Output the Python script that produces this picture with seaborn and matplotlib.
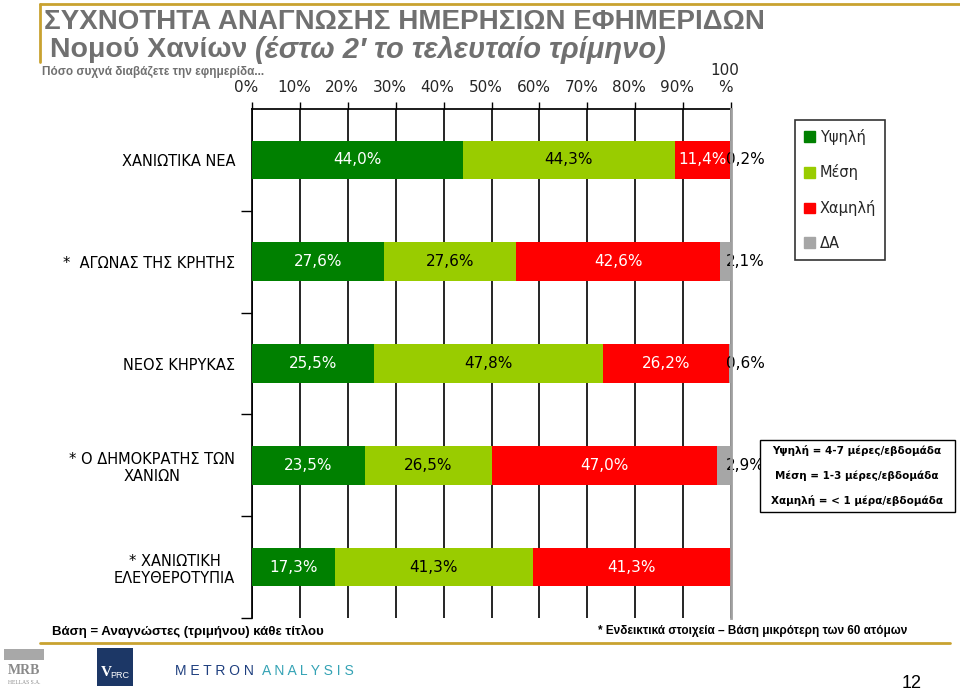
import numpy as np
import pandas as pd
import matplotlib
matplotlib.use("Agg")
import matplotlib.pyplot as plt
import matplotlib.patches as mpatches
from matplotlib.lines import Line2D
from matplotlib.transforms import ScaledTranslation
import seaborn as sns

# data
papers = ["ΧΑΝΙΩΤΙΚΑ ΝΕΑ", "*  ΑΓΩΝΑΣ ΤΗΣ ΚΡΗΤΗΣ", "ΝΕΟΣ ΚΗΡΥΚΑΣ",
          "* Ο ΔΗΜΟΚΡΑΤΗΣ ΤΩΝ\nΧΑΝΙΩΝ", "* ΧΑΝΙΩΤΙΚΗ\nΕΛΕΥΘΕΡΟΤΥΠΙΑ"]
high = [44.0, 27.6, 25.5, 23.5, 17.3]
medium = [44.3, 27.6, 47.8, 26.5, 41.3]
low = [11.4, 42.6, 26.2, 47.0, 41.3]
dk = [0.2, 2.1, 0.6, 2.9, 0.0]
series_names = ["Υψηλή", "Μέση", "Χαμηλή", "ΔΑ"]
xtick_values = [0, 10, 20, 30, 40, 50, 60, 70, 80, 90, 100]
xtick_labels = ["0%", "10%", "20%", "30%", "40%", "50%", "60%", "70%", "80%", "90%", "100\n%"]

colors = ["#008000", "#99CC00", "#FF0000", "#A6A6A6"]
label_colors = ["white", "black", "white", "black"]

sns.set_theme(style="white")
plt.rcParams["font.family"] = ["DejaVu Sans"]

df = pd.DataFrame({"paper": papers, "Υψηλή": high, "Μέση": medium, "Χαμηλή": low, "ΔΑ": dk})
cum = df[series_names].cumsum(axis=1)

fig = plt.figure(figsize=(9.6, 6.91), dpi=100)
ax = fig.add_axes([252 / 960, 1 - 618 / 691, (731 - 252) / 960, (618 - 109) / 691])

# stacked bars: draw cumulative totals from the back to the front
for i in range(len(series_names) - 1, -1, -1):
    sns.barplot(x=cum[series_names[i]], y=df["paper"], color=colors[i], width=0.38,
                orient="h", linewidth=0, saturation=1, ax=ax, zorder=3)

# value labels
for j in range(len(papers)):
    start = 0
    for i, name in enumerate(series_names):
        v = df[name][j]
        if v > 0:
            txt = f"{v:.1f}%".replace(".", ",")
            if i < 3:
                ax.text(start + v / 2, j, txt, ha="center", va="center",
                        color=label_colors[i], fontsize=11, zorder=5)
            else:
                ax.text(103.0, j, txt, ha="center", va="center",
                        color="black", fontsize=11, zorder=5, clip_on=False)
        start += v

ax.set_xlim(0, 100)
ax.set_xlabel("")
ax.set_ylabel("")
ax.xaxis.tick_top()
ax.set_xticks(xtick_values)
ax.set_xticklabels(xtick_labels, fontsize=11)
ax.tick_params(axis="x", which="major", length=5, width=1, direction="out",
               color="black", pad=5)
shift = ScaledTranslation(-6 / 100, 0, fig.dpi_scale_trans)
for lab in ax.get_xticklabels():
    lab.set_transform(lab.get_transform() + shift)
ax.tick_params(axis="y", which="major", length=0, labelsize=10.5, pad=12)
ax.set_yticks(np.arange(len(papers)) + 0.5, minor=True)
ax.tick_params(axis="y", which="minor", length=8, width=1, color="black", direction="out", left=True)
for lab in ax.get_yticklabels():
    lab.set_multialignment("center")
    lab.set_color("black")

ax.set_axisbelow(True)
ax.grid(axis="x", color="black", linewidth=1.2, zorder=0)
ax.grid(axis="y", visible=False)

ax.spines["bottom"].set_visible(False)
ax.spines["top"].set_color("black")
ax.spines["left"].set_color("black")
ax.spines["right"].set_color("#A0A0A0")
ax.spines["right"].set_linewidth(2)
ax.spines["right"].set_zorder(6)

# legend
handles = [mpatches.Patch(color=c, label=n) for c, n in zip(colors, series_names)]
leg = fig.legend(handles=handles, loc="upper left", bbox_to_anchor=(795 / 960, 1 - 120 / 691),
                 frameon=True, fancybox=False, edgecolor="black", fontsize=10.5,
                 labelspacing=1.35, handlelength=0.75, handleheight=0.75,
                 handletextpad=0.35, borderpad=0.6, borderaxespad=0)
leg.get_frame().set_linewidth(1.2)

# definitions box
fig.add_artist(mpatches.Rectangle((760 / 960, 1 - 512 / 691), 195 / 960, 72 / 691,
                                  transform=fig.transFigure, fc="white", ec="black", lw=1))
defs = ["Υψηλή = 4-7 μέρες/εβδομάδα", "Μέση = 1-3 μέρες/εβδομάδα", "Χαμηλή = < 1 μέρα/εβδομάδα"]
for k, d in enumerate(defs):
    fig.text(857 / 960, 1 - (451 + 25 * k) / 691, d, ha="center", va="center",
             fontsize=7.5, fontweight="bold", color="black")

# title block
title_col = "#707070"
title_font = ["Liberation Sans", "DejaVu Sans"]
fig.text(44 / 960, 1 - 22 / 691, "ΣΥΧΝΟΤΗΤΑ ΑΝΑΓΝΩΣΗΣ ΗΜΕΡΗΣΙΩΝ ΕΦΗΜΕΡΙΔΩΝ", ha="left", va="center",
         fontsize=20, fontweight="bold", color=title_col, family=title_font)
t1 = fig.text(50 / 960, 1 - 50 / 691, "Νομού Χανίων ", ha="left", va="center",
              fontsize=20.5, fontweight="bold", color=title_col, family=title_font)
fig.canvas.draw()
bb = t1.get_window_extent()
fig.text(bb.x1 / 960, 1 - 50 / 691, "(έστω 2′ το τελευταίο τρίμηνο)", ha="left", va="center",
         fontsize=21, fontweight="bold", style="italic", color=title_col, family=title_font)
fig.text(42 / 960, 1 - 72 / 691, "Πόσο συχνά διαβάζετε την εφημερίδα...", ha="left", va="center",
         fontsize=8.5, fontweight="bold", color=title_col, family=title_font)

gold = "#C9A230"
fig.add_artist(Line2D([40 / 960, 1.0], [1 - 4 / 691] * 2, color=gold, lw=2))
fig.add_artist(Line2D([40 / 960, 40 / 960], [1 - 4 / 691, 1 - 62 / 691], color=gold, lw=2))
fig.add_artist(Line2D([40 / 960, 950 / 960], [1 - 643 / 691] * 2, color=gold, lw=2))

# footnotes
fig.text(52 / 960, 1 - 631 / 691, "Βάση = Αναγνώστες (τριμήνου) κάθε τίτλου", ha="left", va="center",
         fontsize=9.5, fontweight="bold", color="black", family=["Liberation Sans"])
fig.text(598 / 960, 1 - 631 / 691, "* Ενδεικτικά στοιχεία – Βάση μικρότερη των 60 ατόμων", ha="left",
         va="center", fontsize=8.5, fontweight="bold", color="black", family=["Liberation Sans"])

# logos
fig.add_artist(mpatches.Rectangle((4 / 960, 1 - 660 / 691), 40 / 960, 11 / 691,
                                  transform=fig.transFigure, fc="#A8A8A8", ec="none"))
fig.text(24 / 960, 1 - 670 / 691, "MRB", ha="center", va="center", fontsize=10, fontweight="bold",
         color="#8A8A8A", family=["Liberation Serif"])
fig.text(24 / 960, 1 - 682 / 691, "HELLAS S.A.", ha="center", va="center", fontsize=4,
         color="#8A8A8A", family=["Liberation Serif"])
fig.add_artist(mpatches.Rectangle((97 / 960, 1 - 686 / 691), 36 / 960, 38 / 691,
                                  transform=fig.transFigure, fc="#1C3766", ec="none"))
fig.text(106 / 960, 1 - 673 / 691, "V", ha="center", va="center", fontsize=11, fontweight="bold",
         color="white", family=["Liberation Serif"])
fig.text(120 / 960, 1 - 676 / 691, "PRC", ha="center", va="center", fontsize=6.5,
         color="white", family=["Liberation Sans"])
fig.text(175 / 960, 1 - 671 / 691, "M E T R O N", ha="left", va="center", fontsize=10,
         color="#1F3F7F", family=["Liberation Sans"])
fig.text(262 / 960, 1 - 671 / 691, "A N A L Y S I S", ha="left", va="center", fontsize=10,
         color="#35A3B5", family=["Liberation Sans"])
fig.text(912 / 960, 1 - 683 / 691, "12", ha="center", va="center", fontsize=13, color="black",
         family=["Liberation Sans"])

fig.savefig("out.png", dpi=100)
